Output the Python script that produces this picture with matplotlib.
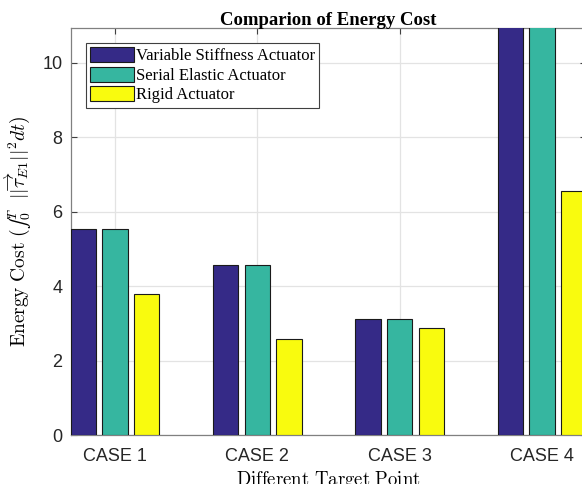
import numpy as np
import matplotlib
matplotlib.use("Agg")
import matplotlib.pyplot as plt

# Energy cost per target point for each actuator type
cases = ["CASE 1", "CASE 2", "CASE 3", "CASE 4"]
vsa = [5.53, 4.57, 3.11, 11.8]
sea = [5.53, 4.57, 3.11, 11.8]
rigid = [3.78, 2.58, 2.89, 6.56]
series_names = ["Variable Stiffness Actuator", "Serial Elastic Actuator", "Rigid Actuator"]
yticks = [0, 2, 4, 6, 8, 10]

colors = ["#352a87", "#36b6a0", "#f9fb0e"]

plt.rcParams["mathtext.fontset"] = "cm"

fig = plt.figure(figsize=(5.82, 4.84), dpi=100)
ax = fig.add_axes([0.1215, 0.1006, 0.8859, 0.8415])

x = np.arange(1, len(cases) + 1)
group_step = 2 / 9
bar_w = group_step * 0.8
for i, (vals, name, c) in enumerate(zip([vsa, sea, rigid], series_names, colors)):
    ax.bar(x + (i - 1) * group_step, vals, width=bar_w, color=c,
           edgecolor="#1a1a1a", linewidth=0.8, label=name, zorder=3)

ax.set_xlim(1 - 0.311, 4 + 0.311)
ax.set_ylim(0, 10.93)
ax.set_xticks(x)
ax.set_xticklabels(cases)
ax.set_yticks(yticks)

ax.grid(True, color="#e3e3e3", linewidth=0.9, zorder=0)
ax.set_axisbelow(True)

for sp in ax.spines.values():
    sp.set_color("#808080")
    sp.set_linewidth(0.9)

ax.tick_params(axis="both", direction="in", length=4, width=0.8, color="#404040",
               labelsize=13, labelcolor="#262626", top=True, right=True)
for lab in ax.get_xticklabels() + ax.get_yticklabels():
    lab.set_fontfamily("Liberation Sans")
ax.tick_params(axis="x", pad=9)
ax.tick_params(axis="y", pad=6)

ax.set_title("Comparion of Energy Cost", fontfamily="Liberation Serif",
             fontweight="bold", fontsize=13.5, pad=2)
ax.set_ylabel("$\\mathrm{Energy\\ Cost}\\ (\u222b_0^T\\ \\ ||\\overrightarrow{\\tau}_{E1}||^2dt)$",
              fontsize=14)
ax.yaxis.set_label_coords(-0.102, 0.5)
ax.yaxis.label.set_va("center")
ax.set_xlabel(r"$\mathrm{Different\ Target\ Point}$", fontsize=13.5, labelpad=3)

leg = ax.legend(loc="upper left", bbox_to_anchor=(0.030, 0.963),
                prop={"family": "Liberation Serif", "size": 12},
                fancybox=False, framealpha=1, edgecolor="#404040",
                handlelength=2.6, handleheight=1.0, handletextpad=0.15,
                labelspacing=0.14, borderpad=0.25, borderaxespad=0)
leg.get_frame().set_linewidth(0.8)

fig.savefig("out.png", dpi=100)
